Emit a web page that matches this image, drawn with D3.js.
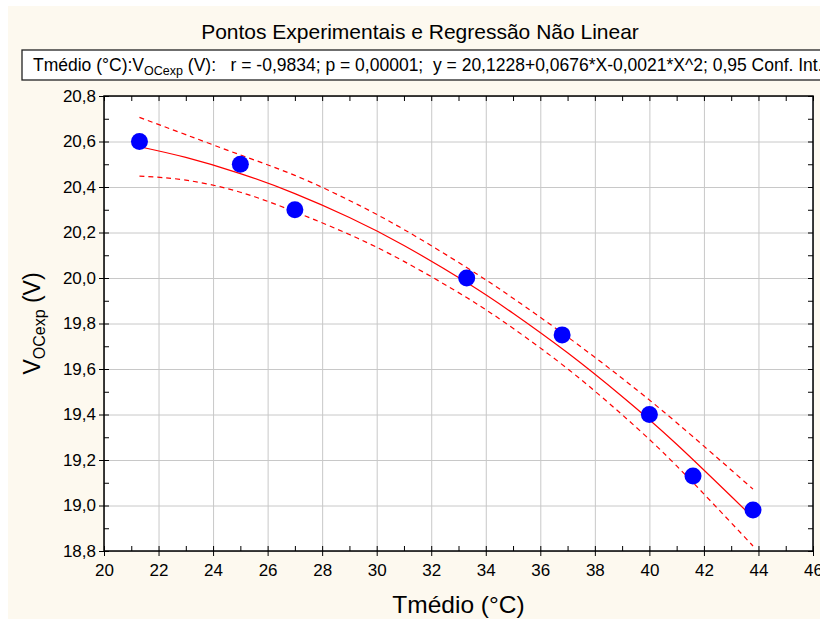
<!DOCTYPE html>
<html>
<head>
<meta charset="utf-8">
<script src="https://cdn.jsdelivr.net/npm/d3@7"></script>
<style>
    body { margin: 0; background: #ffffff; }
    svg text { font-family: "Liberation Sans", Arial, sans-serif; fill: #000; }
    .grid line { stroke: #c8c8c8; stroke-width: 1; }
    .grid path { display: none; }
    .fit { fill: none; stroke: #ff0000; stroke-width: 1.2px; }
    .band { fill: none; stroke: #ff0000; stroke-width: 1.2px; stroke-dasharray: 5 4; }
</style>
</head>
<body>
<script>
    // experimental points
    var tempX = [21.3, 25.0, 27.0, 33.3, 36.8, 40.0, 41.6, 43.8];
    var vocY = [20.6, 20.5, 20.3, 20.0, 19.75, 19.4, 19.13, 18.98];

    // regression curve and 0.95 confidence band
    var curveX = [21.3, 23, 25, 27, 29, 31, 33.3, 35, 37, 39, 41, 43.8];
    var fitY = [20.577, 20.530, 20.459, 20.371, 20.266, 20.143, 19.980, 19.845, 19.671, 19.479, 19.269, 18.947];
    var upperY = [20.706, 20.630, 20.541, 20.451, 20.341, 20.213, 20.046, 19.911, 19.741, 19.559, 19.364, 19.072];
    var lowerY = [20.448, 20.430, 20.377, 20.291, 20.191, 20.073, 19.914, 19.779, 19.601, 19.399, 19.174, 18.822];

    var xTicks = [20, 22, 24, 26, 28, 30, 32, 34, 36, 38, 40, 42, 44, 46];
    var yTicks = [18.8, 19.0, 19.2, 19.4, 19.6, 19.8, 20.0, 20.2, 20.4, 20.6, 20.8];

    var W = 820, H = 619;
    var margin = {top: 96, right: 7, bottom: 68, left: 104};
    var width = W - margin.left - margin.right,
        height = H - margin.top - margin.bottom;

    var svg = d3.select("body").append("svg")
        .attr("width", W).attr("height", H);

    // cream background
    svg.append("rect").attr("x", 8).attr("y", 6)
        .attr("width", W - 8).attr("height", H - 6)
        .attr("fill", "#fdf9ef");

    var x = d3.scaleLinear().domain([20, 46]).range([0, width]);
    var y = d3.scaleLinear().domain([18.8, 20.8]).range([height, 0]);

    var g = svg.append("g")
        .attr("transform", "translate(" + margin.left + "," + margin.top + ")");

    g.append("rect").attr("width", width).attr("height", height).attr("fill", "#fff");

    // grid
    g.append("g").attr("class", "grid")
        .attr("transform", "translate(0," + height + ")")
        .call(d3.axisBottom(x).tickValues(xTicks).tickSize(-height).tickFormat(""));
    g.append("g").attr("class", "grid")
        .call(d3.axisLeft(y).tickValues(yTicks).tickSize(-width).tickFormat(""));

    var fmt = function (d) { return d3.format(".1f")(d).replace(".", ","); };

    // minor tick values
    var xMinor = d3.range(20, 46.01, 1);
    var yMinor = d3.range(0, 21).map(function (i) { return +(18.8 + i * 0.1).toFixed(1); });

    // inside ticks on all four sides
    [
        [d3.axisBottom(x).tickValues(xMinor).tickSize(-5), "translate(0," + height + ")"],
        [d3.axisTop(x).tickValues(xMinor).tickSize(-5), "translate(0,0)"],
        [d3.axisLeft(y).tickValues(yMinor).tickSize(-5), "translate(0,0)"],
        [d3.axisRight(y).tickValues(yMinor).tickSize(-5), "translate(" + width + ",0)"]
    ].forEach(function (a) {
        var ax = g.append("g").attr("transform", a[1]).call(a[0].tickFormat(""));
        ax.select(".domain").remove();
        ax.selectAll("line").attr("stroke", "#000");
    });

    // labelled axes
    var xAxis = g.append("g")
        .attr("transform", "translate(0," + height + ")")
        .call(d3.axisBottom(x).tickValues(xTicks).tickSize(5).tickPadding(8)
            .tickFormat(function (d) { return d; }));
    var yAxis = g.append("g")
        .call(d3.axisLeft(y).tickValues(yTicks).tickSize(5).tickPadding(3).tickFormat(fmt));
    [xAxis, yAxis].forEach(function (ax) {
        ax.select(".domain").remove();
        ax.selectAll("text").style("font-size", "17px").attr("fill", "#000");
        ax.selectAll("line").attr("stroke", "#000");
    });

    // frame
    g.append("rect").attr("width", width).attr("height", height)
        .attr("fill", "none").attr("stroke", "#000").attr("stroke-width", 1.5);

    // curves
    var band = function (vals) {
        return d3.line()
            .x(function (d, i) { return x(curveX[i]); })
            .y(function (d) { return y(d); })
            .curve(d3.curveNatural)(vals);
    };
    g.append("path").attr("class", "band").attr("d", band(upperY));
    g.append("path").attr("class", "band").attr("d", band(lowerY));
    g.append("path").attr("class", "fit").attr("d", band(fitY));

    // points
    g.selectAll("circle.pt")
        .data(tempX)
        .enter().append("circle")
        .attr("class", "pt")
        .attr("cx", function (d) { return x(d); })
        .attr("cy", function (d, i) { return y(vocY[i]); })
        .attr("r", 8.5)
        .attr("fill", "#0000ff");

    // title
    svg.append("text")
        .attr("x", 420).attr("y", 39)
        .attr("text-anchor", "middle")
        .style("font-size", "21px")
        .text("Pontos Experimentais e Regressão Não Linear");

    // legend box (runs off the right edge, as in the original)
    svg.append("rect")
        .attr("x", 22).attr("y", 50).attr("width", 820).attr("height", 30)
        .attr("fill", "#fff").attr("stroke", "#222").attr("stroke-width", 1.3);
    var leg = svg.append("text")
        .attr("x", 33).attr("y", 71)
        .style("font-size", "17.5px")
        .attr("xml:space", "preserve");
    leg.append("tspan").text("Tmédio (°C):V");
    leg.append("tspan").attr("dy", 4).style("font-size", "12.5px").text("OCexp");
    leg.append("tspan").attr("dy", -4)
        .text(" (V):   r = -0,9834; p = 0,00001;  y = 20,1228+0,0676*X-0,0021*X^2; 0,95 Conf. Int.");

    // axis titles
    svg.append("text")
        .attr("x", margin.left + width / 2).attr("y", 613)
        .attr("text-anchor", "middle")
        .style("font-size", "24.5px")
        .text("Tmédio (°C)");

    var yl = svg.append("text")
        .attr("transform", "translate(40," + (margin.top + height / 2) + ") rotate(-90)")
        .attr("text-anchor", "middle")
        .style("font-size", "23px");
    yl.append("tspan").text("V");
    yl.append("tspan").attr("dy", 5).style("font-size", "16px").text("OCexp");
    yl.append("tspan").attr("dy", -5).text(" (V)");
</script>
</body>
</html>
